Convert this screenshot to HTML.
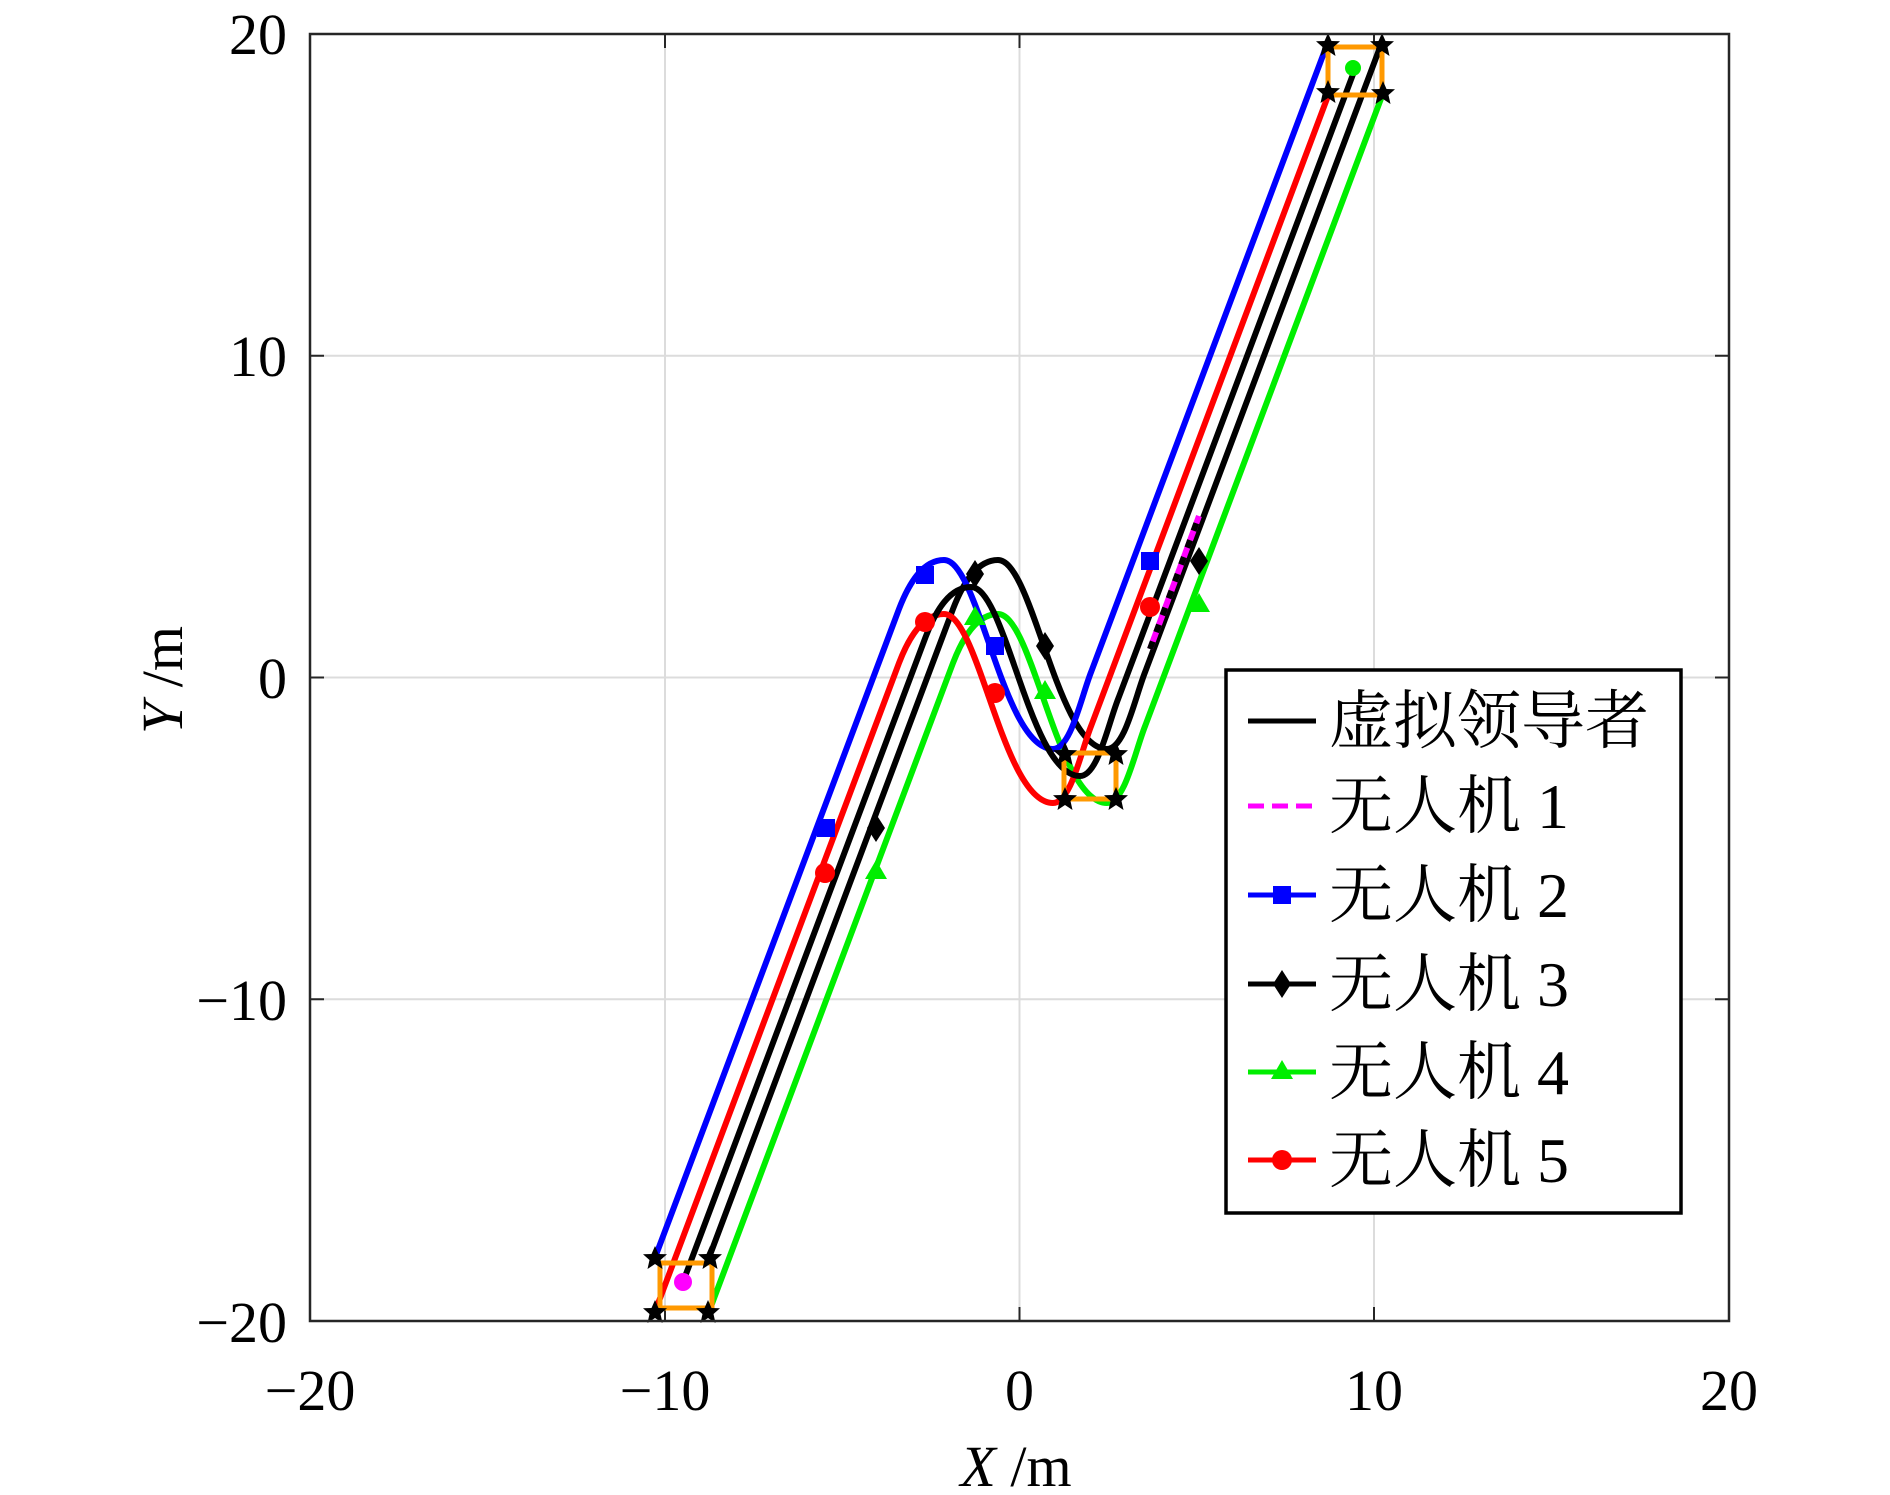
<!DOCTYPE html>
<html><head><meta charset="utf-8"><style>
html,body{margin:0;padding:0;background:#fff;}
svg{display:block;}
.t{font-family:"Liberation Serif",serif;font-size:58px;fill:#000;}
.c{font-family:"Liberation Serif","Noto Serif CJK SC",serif;font-size:64px;fill:#000;}
</style></head><body>
<svg width="1890" height="1495" viewBox="0 0 1890 1495" xmlns="http://www.w3.org/2000/svg">
<defs>
<path id="L" d="M683,1282 L926,636 C936,610 950,587 971,587 C1006,587 1030,776 1080,776 C1098,776 1108,724 1118.5,698 L1355,69" fill="none"/>
<polygon id="st" points="0,-12 3.5,-4 12,-3.7 5.5,2 7.5,11 0,6 -7.5,11 -5.5,2 -12,-3.7 -3.5,-4" fill="#000"/>
</defs>
<rect width="1890" height="1495" fill="#fff"/>
<g stroke="#dcdcdc" stroke-width="2">
<line x1="665" y1="34" x2="665" y2="1321"/><line x1="1019.5" y1="34" x2="1019.5" y2="1321"/><line x1="1374" y1="34" x2="1374" y2="1321"/>
<line x1="310" y1="355.75" x2="1729" y2="355.75"/><line x1="310" y1="677.5" x2="1729" y2="677.5"/><line x1="310" y1="999.25" x2="1729" y2="999.25"/>
</g>
<g stroke="#262626" stroke-width="2">
<line x1="665" y1="1321" x2="665" y2="1307"/><line x1="1019.5" y1="1321" x2="1019.5" y2="1307"/><line x1="1374" y1="1321" x2="1374" y2="1307"/>
<line x1="665" y1="34" x2="665" y2="48"/><line x1="1019.5" y1="34" x2="1019.5" y2="48"/><line x1="1374" y1="34" x2="1374" y2="48"/>
<line x1="310" y1="355.75" x2="324" y2="355.75"/><line x1="310" y1="677.5" x2="324" y2="677.5"/><line x1="310" y1="999.25" x2="324" y2="999.25"/>
<line x1="1729" y1="355.75" x2="1715" y2="355.75"/><line x1="1729" y1="677.5" x2="1715" y2="677.5"/><line x1="1729" y1="999.25" x2="1715" y2="999.25"/>
</g>
<g stroke-width="6" fill="none" stroke-linejoin="round">
<use href="#L" stroke="#00ee00" transform="translate(27,27)"/>
<use href="#L" stroke="#000" transform="translate(27,-27)"/>
<use href="#L" stroke="#ff0000" transform="translate(-27,27)"/>
<use href="#L" stroke="#0000ff" transform="translate(-27,-27)"/>
<use href="#L" stroke="#000"/>
<line x1="1150" y1="649" x2="1199" y2="516" stroke="#ff00ff"/>
<line x1="1150" y1="649" x2="1199" y2="516" stroke="#000" stroke-dasharray="8 10"/>
</g>
<g stroke="#ff9900" stroke-width="5" fill="none">
<rect x="660" y="1263" width="52" height="45"/>
<rect x="1064" y="753" width="52" height="46"/>
<rect x="1328" y="47" width="54" height="48"/>
</g>
<g fill="#0000ff">
<rect x="817" y="819" width="18" height="18"/><rect x="916" y="566" width="18" height="18"/><rect x="986" y="637" width="18" height="18"/><rect x="1141" y="552" width="18" height="18"/>
</g>
<g fill="#ff0000">
<circle cx="825" cy="873" r="10"/><circle cx="925" cy="622" r="10"/><circle cx="995" cy="693" r="10"/><circle cx="1150" cy="607" r="10"/>
</g>
<g fill="#000">
<polygon points="876,814 885,828 876,842 867,828"/><polygon points="975,560 984,574 975,588 966,574"/><polygon points="1045,632 1054,646 1045,660 1036,646"/><polygon points="1199,547 1208,561 1199,575 1190,561"/>
</g>
<g fill="#00ee00">
<polygon points="876,860 887,879 865,879"/><polygon points="975,606 986,625 964,625"/><polygon points="1045,680 1056,699 1034,699"/><polygon points="1199,593 1210,612 1188,612"/>
<circle cx="1353" cy="68" r="8"/>
</g>
<circle cx="683" cy="1282" r="9" fill="#ff00ff"/>
<g>
<use href="#st" x="655" y="1258"/><use href="#st" x="710" y="1258"/><use href="#st" x="655" y="1312"/><use href="#st" x="708" y="1312"/>
<use href="#st" x="1065" y="754"/><use href="#st" x="1116" y="754"/><use href="#st" x="1065" y="799"/><use href="#st" x="1116" y="799"/>
<use href="#st" x="1328" y="45"/><use href="#st" x="1382" y="45"/><use href="#st" x="1328" y="92"/><use href="#st" x="1383" y="93"/>
</g>
<rect x="310" y="34" width="1419" height="1287" fill="none" stroke="#262626" stroke-width="2.5"/>
<g class="t" text-anchor="end">
<text x="287" y="54">20</text><text x="287" y="376">10</text><text x="287" y="698">0</text><text x="287" y="1020">−10</text><text x="287" y="1342">−20</text>
</g>
<g class="t" text-anchor="middle">
<text x="310" y="1410">−20</text><text x="665" y="1410">−10</text><text x="1019.5" y="1410">0</text><text x="1374" y="1410">10</text><text x="1729" y="1410">20</text>
</g>
<text class="t" x="1016" y="1486" text-anchor="middle"><tspan font-style="italic">X</tspan> /m</text>
<text class="t" transform="translate(182,680) rotate(-90)" text-anchor="middle"><tspan font-style="italic">Y</tspan> /m</text>
<g transform="translate(-11,-5)">
<rect x="1237" y="675" width="455" height="543" fill="#fff" stroke="#000" stroke-width="3.5"/>
<g stroke-width="5">
<line x1="1259" y1="726" x2="1327" y2="726" stroke="#000"/>
<line x1="1259" y1="811" x2="1327" y2="811" stroke="#ff00ff" stroke-dasharray="16 8"/>
<line x1="1259" y1="900" x2="1327" y2="900" stroke="#0000ff"/>
<line x1="1259" y1="989" x2="1327" y2="989" stroke="#000"/>
<line x1="1259" y1="1077" x2="1327" y2="1077" stroke="#00ee00"/>
<line x1="1259" y1="1165" x2="1327" y2="1165" stroke="#ff0000"/>
</g>
<rect x="1284" y="891" width="18" height="18" fill="#0000ff"/>
<polygon points="1293,975 1302,989 1293,1003 1284,989" fill="#000"/>
<polygon points="1293,1065 1304,1084 1282,1084" fill="#00ee00"/>
<circle cx="1293" cy="1165" r="10" fill="#ff0000"/>
<g class="c">
<text x="1340" y="748">虚拟领导者</text>
<text x="1340" y="833">无人机 1</text>
<text x="1340" y="922">无人机 2</text>
<text x="1340" y="1011">无人机 3</text>
<text x="1340" y="1099">无人机 4</text>
<text x="1340" y="1187">无人机 5</text>
</g>
</g>
</svg>
</body></html>
